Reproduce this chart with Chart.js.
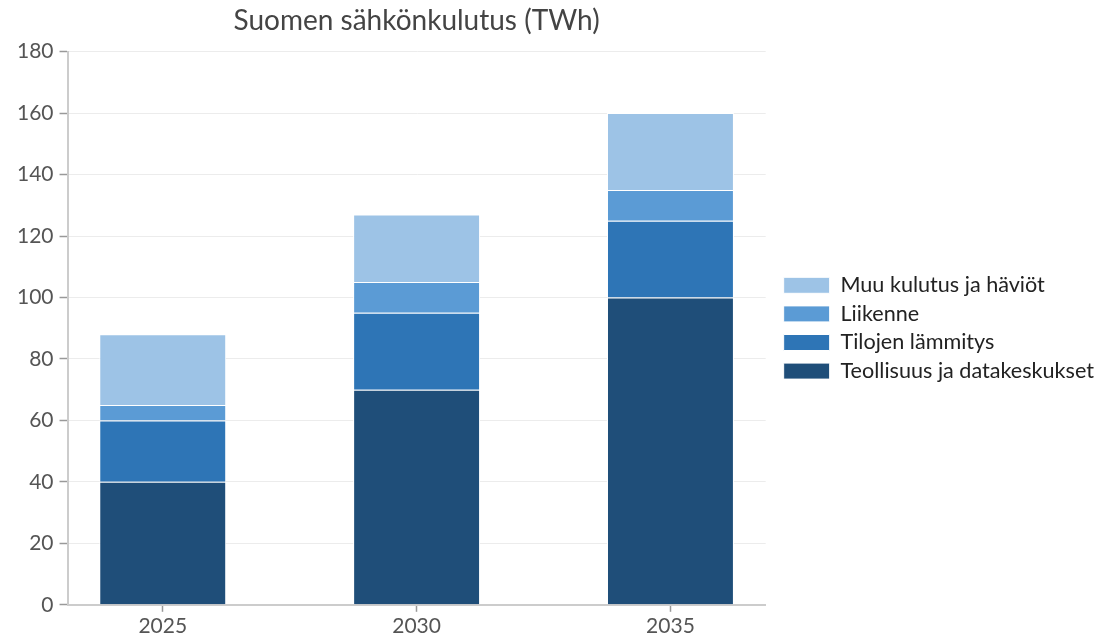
<!DOCTYPE html>
<html>
<head>
<meta charset="utf-8">
<script src="https://cdn.jsdelivr.net/npm/chart.js@4/dist/chart.umd.min.js"></script>
<style>
  html, body { margin: 0; padding: 0; background: #fff; }
  #wrap { width: 1099px; height: 641px; }
</style>
</head>
<body>
<div id="wrap"><canvas id="kulutusChart"></canvas></div>
<script>
// Vuodet (x-akseli)
const years = [2025, 2030, 2035];

// Sarjat (TWh)
const teollisuus = [40, 70, 100];
const lammitys = [20, 25, 25];
const liikenne = [5, 10, 10];
const muu = [23, 22, 25];

const yTicks = [0, 20, 40, 60, 80, 100, 120, 140, 160, 180];

const FONT = 'Lato, "Noto Sans", sans-serif';

// Siirtää selitettä hieman oikealle, jotta väli kuvaajaan on sama kuin mallissa
const legendShift = {
    id: 'legendShift',
    afterLayout(chart) {
        chart.legend.left += 11;
        chart.legend.right += 11;
    }
};

const ctx = document.getElementById('kulutusChart').getContext('2d');

new Chart(ctx, {
    type: 'bar',
    data: {
        labels: years,
        datasets: [
            { label: 'Teollisuus ja datakeskukset', data: teollisuus, backgroundColor: '#1f4e79' },
            { label: 'Tilojen lämmitys', data: lammitys, backgroundColor: '#2e75b6' },
            { label: 'Liikenne', data: liikenne, backgroundColor: '#5b9bd5' },
            { label: 'Muu kulutus ja häviöt', data: muu, backgroundColor: '#9dc3e6' }
        ]
    },
    plugins: [legendShift],
    options: {
        responsive: true,
        maintainAspectRatio: false,
        animation: false,
        datasets: {
            bar: {
                categoryPercentage: 1,
                barPercentage: 0.5,
                borderColor: '#ffffff',
                borderWidth: 1,
                borderSkipped: 'start'
            }
        },
        layout: { padding: { left: 11, right: 6, top: 2, bottom: 0 } },
        scales: {
            x: {
                type: 'linear',
                stacked: true,
                offset: false,
                min: years[0] - 1.875,
                max: years[years.length - 1] + 1.875,
                afterBuildTicks: (scale) => {
                    scale.ticks = years.map(v => ({ value: v }));
                },
                ticks: {
                    callback: (v) => String(v),
                    color: '#555',
                    font: { family: FONT, size: 21 },
                    padding: 2,
                    maxRotation: 0
                },
                grid: {
                    offset: false,
                    drawOnChartArea: false,
                    drawTicks: true,
                    tickLength: 7,
                    tickColor: '#999',
                    tickWidth: 1.5
                },
                border: { color: '#ccc', width: 2 }
            },
            y: {
                stacked: true,
                min: 0,
                max: 180,
                afterBuildTicks: (scale) => {
                    scale.ticks = yTicks.map(v => ({ value: v }));
                },
                ticks: {
                    color: '#555',
                    font: { family: FONT, size: 21 },
                    padding: 6
                },
                grid: {
                    color: '#ececec',
                    lineWidth: 1,
                    drawTicks: true,
                    tickLength: 8,
                    tickColor: '#999',
                    tickWidth: 1.5
                },
                border: { color: '#ccc', width: 2 }
            }
        },
        plugins: {
            title: {
                display: true,
                fullSize: false,
                text: 'Suomen sähkönkulutus (TWh)',
                color: '#444',
                font: { family: FONT, size: 28, weight: 'normal' },
                padding: { top: 2, bottom: 14 }
            },
            legend: {
                position: 'right',
                fullSize: false,
                reverse: true,
                maxWidth: 340,
                labels: {
                    boxWidth: 46,
                    boxHeight: 16,
                    padding: 7,
                    color: '#222',
                    font: { family: FONT, size: 21.6 }
                }
            },
            tooltip: { enabled: false }
        }
    }
});
</script>
</body>
</html>
